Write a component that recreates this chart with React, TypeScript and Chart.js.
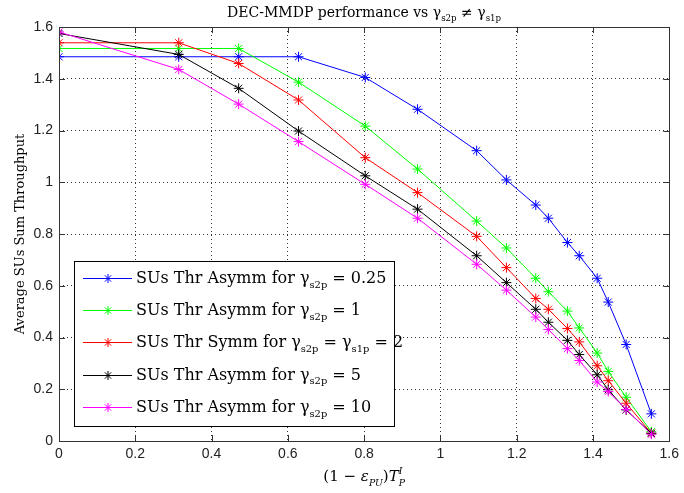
import React, { useEffect, useRef } from "react";
import { Chart, registerables } from "chart.js";
Chart.register(...registerables);

const xValues = [0, 0.314, 0.471, 0.628, 0.803, 0.94, 1.095, 1.173, 1.25, 1.283, 1.333, 1.364, 1.411, 1.44, 1.487, 1.553];
const asym025 = [1.485, 1.485, 1.485, 1.485, 1.405, 1.282, 1.122, 1.009, 0.912, 0.861, 0.767, 0.716, 0.629, 0.537, 0.373, 0.105];
const asym1 = [1.517, 1.517, 1.517, 1.387, 1.217, 1.051, 0.85, 0.746, 0.629, 0.577, 0.502, 0.437, 0.34, 0.269, 0.169, 0.036];
const symm2 = [1.539, 1.539, 1.459, 1.318, 1.095, 0.96, 0.791, 0.67, 0.551, 0.509, 0.435, 0.383, 0.291, 0.233, 0.146, 0.03];
const asym5 = [1.575, 1.494, 1.363, 1.198, 1.025, 0.896, 0.716, 0.612, 0.509, 0.459, 0.389, 0.334, 0.256, 0.198, 0.12, 0.03];
const asym10 = [1.581, 1.436, 1.302, 1.157, 0.992, 0.861, 0.683, 0.583, 0.479, 0.431, 0.357, 0.311, 0.228, 0.191, 0.122, 0.026];

const seriesColors = ["#0000ff", "#00ff00", "#ff0000", "#000000", "#ff00ff"];
const seriesValues = [asym025, asym1, symm2, asym5, asym10];

type Seg = { t: string; sub?: string; sup?: string; it?: boolean };
const legendTexts: Seg[][] = [
  [{ t: "SUs Thr Asymm for " }, { t: "γ", sub: "s2p" }, { t: " = 0.25" }],
  [{ t: "SUs Thr Asymm for " }, { t: "γ", sub: "s2p" }, { t: " = 1" }],
  [{ t: "SUs Thr Symm for " }, { t: "γ", sub: "s2p" }, { t: " = " }, { t: "γ", sub: "s1p" }, { t: " = 2" }],
  [{ t: "SUs Thr Asymm for " }, { t: "γ", sub: "s2p" }, { t: " = 5" }],
  [{ t: "SUs Thr Asymm for " }, { t: "γ", sub: "s2p" }, { t: " = 10" }],
];
const titleSegs: Seg[] = [{ t: "DEC-MMDP performance vs " }, { t: "γ", sub: "s2p" }, { t: " ≠ " }, { t: "γ", sub: "s1p" }];
const xLabelSegs: Seg[] = [{ t: "(1 − " }, { t: "ε", sub: "PU", it: true }, { t: ")" }, { t: "T", it: true, sup: "I", sub: "P" }];
const yLabelText = "Average SUs Sum Throughput";

const SERIF = '"DejaVu Serif", serif';
const SANS = '"Liberation Sans", Arial, sans-serif';
const SUBK = 0.62;

function fnt(size: number, it?: boolean) {
  return `${it ? "italic " : ""}${size}px ${SERIF}`;
}
function measureRich(ctx: CanvasRenderingContext2D, segs: Seg[], size: number) {
  let w = 0;
  for (const s of segs) {
    ctx.font = fnt(size, s.it);
    w += ctx.measureText(s.t).width;
    ctx.font = fnt(size * SUBK, s.it);
    let sw = 0;
    if (s.sub) sw = Math.max(sw, ctx.measureText(s.sub).width);
    if (s.sup) sw = Math.max(sw, ctx.measureText(s.sup).width);
    w += sw;
  }
  return w;
}
function drawRich(ctx: CanvasRenderingContext2D, segs: Seg[], x: number, y: number, size: number, align: "left" | "center") {
  const w = measureRich(ctx, segs, size);
  let cx = align === "center" ? x - w / 2 : x;
  ctx.textAlign = "left";
  ctx.textBaseline = "alphabetic";
  for (const s of segs) {
    ctx.font = fnt(size, s.it);
    ctx.fillText(s.t, cx, y);
    cx += ctx.measureText(s.t).width;
    ctx.font = fnt(size * SUBK, s.it);
    let sw = 0;
    if (s.sub) {
      ctx.fillText(s.sub, cx, y + size * 0.3);
      sw = Math.max(sw, ctx.measureText(s.sub).width);
    }
    if (s.sup) {
      ctx.fillText(s.sup, cx, y - size * 0.45);
      sw = Math.max(sw, ctx.measureText(s.sup).width);
    }
    cx += sw;
  }
}
function drawStar(ctx: CanvasRenderingContext2D, x: number, y: number, r: number) {
  ctx.beginPath();
  ctx.moveTo(x - r, y); ctx.lineTo(x + r, y);
  ctx.moveTo(x, y - r); ctx.lineTo(x, y + r);
  const d = r * 0.7071;
  ctx.moveTo(x - d, y - d); ctx.lineTo(x + d, y + d);
  ctx.moveTo(x - d, y + d); ctx.lineTo(x + d, y - d);
  ctx.stroke();
}

const decorPlugin = {
  id: "decor",
  afterDraw(chart: any) {
    const ctx: CanvasRenderingContext2D = chart.ctx;
    const { left, right, top, bottom } = chart.chartArea;
    const xs = chart.scales.x;
    const ys = chart.scales.y;
    ctx.save();
    ctx.strokeStyle = "#333";
    ctx.lineWidth = 1;
    ctx.setLineDash([]);
    ctx.strokeRect(Math.round(left) + 0.5, Math.round(top) + 0.5, Math.round(right - left), Math.round(bottom - top));
    ctx.beginPath();
    const tl = 6;
    for (const t of xs.ticks) {
      const px = Math.round(xs.getPixelForValue(t.value)) + 0.5;
      ctx.moveTo(px, bottom); ctx.lineTo(px, bottom - tl);
      ctx.moveTo(px, top); ctx.lineTo(px, top + tl);
    }
    for (const t of ys.ticks) {
      const py = Math.round(ys.getPixelForValue(t.value)) + 0.5;
      ctx.moveTo(left, py); ctx.lineTo(left + tl, py);
      ctx.moveTo(right, py); ctx.lineTo(right - tl, py);
    }
    ctx.stroke();

    // legend
    const lx = left + 15, ly = top + 234, lw = 320, lh = 165;
    ctx.fillStyle = "#fff";
    ctx.fillRect(lx, ly, lw, lh);
    ctx.strokeStyle = "#000";
    ctx.strokeRect(Math.round(lx) + 0.5, Math.round(ly) + 0.5, lw, lh);
    const rowH = 32.2;
    for (let i = 0; i < legendTexts.length; i++) {
      const cy = ly + 17 + i * rowH;
      ctx.strokeStyle = seriesColors[i];
      ctx.lineWidth = 1;
      ctx.beginPath();
      ctx.moveTo(lx + 9, Math.round(cy) + 0.5);
      ctx.lineTo(lx + 58, Math.round(cy) + 0.5);
      ctx.stroke();
      drawStar(ctx, lx + 34, Math.round(cy) + 0.5, 4.5);
      ctx.fillStyle = "#000";
      drawRich(ctx, legendTexts[i], lx + 62, cy + 5, 16, "left");
    }

    ctx.fillStyle = "#000";
    drawRich(ctx, titleSegs, (left + right) / 2, 17, 14, "center");
    drawRich(ctx, xLabelSegs, (left + right) / 2, 481, 15, "center");
    ctx.save();
    ctx.translate(24, (top + bottom) / 2);
    ctx.rotate(-Math.PI / 2);
    ctx.font = fnt(13);
    ctx.textAlign = "center";
    ctx.textBaseline = "alphabetic";
    ctx.fillText(yLabelText, 0, 0);
    ctx.restore();
    ctx.restore();
  },
};

export default function App() {
  const ref = useRef<HTMLCanvasElement>(null);
  useEffect(() => {
    if (!ref.current) return;
    const labels = ["SUs Thr Asymm γs2p = 0.25", "SUs Thr Asymm γs2p = 1", "SUs Thr Symm γs2p = γs1p = 2", "SUs Thr Asymm γs2p = 5", "SUs Thr Asymm γs2p = 10"];
    const datasets = seriesValues.map((vals, i) => ({
      label: labels[i],
      data: vals.map((v, j) => ({ x: xValues[j], y: v })),
      borderColor: seriesColors[i],
      backgroundColor: seriesColors[i],
      borderWidth: 1,
      pointStyle: "star",
      pointRadius: 5,
      pointBorderWidth: 1,
      pointBorderColor: seriesColors[i],
      fill: false,
      tension: 0,
      order: seriesValues.length - i,
    }));
    const tickFont = { family: SANS, size: 14 };
    const chart = new Chart(ref.current, {
      type: "line",
      data: { datasets },
      plugins: [decorPlugin],
      options: {
        animation: false,
        responsive: false,
        maintainAspectRatio: false,
        layout: { padding: { top: 27, right: 10, left: 0, bottom: 0 } },
        plugins: { legend: { display: false }, tooltip: { enabled: false }, title: { display: false } },
        scales: {
          x: {
            type: "linear",
            min: 0,
            max: 1.6,
            ticks: { stepSize: 0.2, font: tickFont, color: "#222", padding: 5, maxRotation: 0, callback: (v: any) => String(Number(Number(v).toFixed(1))) },
            grid: { color: "#333", drawTicks: false, lineWidth: 1 },
            border: { display: false, dash: [1, 3] },
            afterFit: (s: any) => { s.height = 52; },
          },
          y: {
            type: "linear",
            min: 0,
            max: 1.6,
            ticks: { stepSize: 0.2, font: tickFont, color: "#222", padding: 6, callback: (v: any) => String(Number(Number(v).toFixed(1))) },
            grid: { color: "#333", drawTicks: false, lineWidth: 1 },
            border: { display: false, dash: [1, 3] },
            afterFit: (s: any) => { s.width = 59; },
          },
        },
      },
    } as any);
    return () => chart.destroy();
  }, []);
  return (
    <div style={{ position: "absolute", left: 0, top: 0, width: 684, height: 493, background: "#fff" }}>
      <canvas ref={ref} width={684} height={493} style={{ width: 684, height: 493 }} />
    </div>
  );
}
